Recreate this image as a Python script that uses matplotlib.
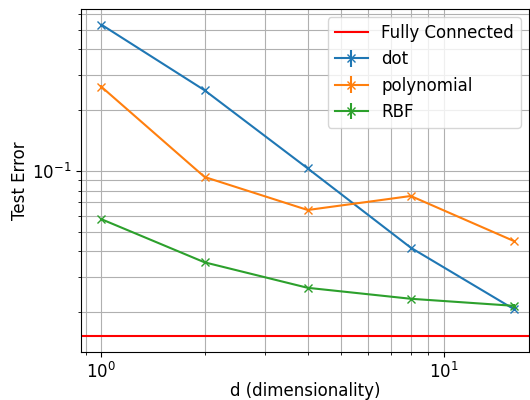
import matplotlib
matplotlib.use('Agg')
import matplotlib.pyplot as plt
import numpy as np

dims = [1, 2, 4, 8, 16]
dot_err = [0.530, 0.251, 0.103, 0.0417, 0.0207]
dot_std = [0.004, 0.002, 0.001, 0.0005, 0.0004]
poly_err = [0.261, 0.0934, 0.0641, 0.0752, 0.045]
poly_std = [0.006, 0.001, 0.001, 0.001, 0.0005]
rbf_err = [0.0577, 0.0353, 0.0264, 0.0233, 0.0215]
rbf_std = [0.0005, 0.0004, 0.0003, 0.0003, 0.0004]
fc_err = 0.0153

plt.rcParams['font.size'] = 12
fig = plt.figure(figsize=(5.3, 4.0), dpi=100)
ax = fig.add_axes([0.153, 0.12, 0.845, 0.8575])

ax.axhline(fc_err, color='red', label='Fully Connected')
ax.errorbar(dims, dot_err, yerr=dot_std, marker='x', label='dot')
ax.errorbar(dims, poly_err, yerr=poly_std, marker='x', label='polynomial')
ax.errorbar(dims, rbf_err, yerr=rbf_std, marker='x', label='RBF')

ax.set_xscale('log')
ax.set_yscale('log')
ax.set_xlim(0.872, 17.7)
ax.set_ylim(0.0127, 0.634)
ax.grid(True, which='both')
ax.set_xlabel('d (dimensionality)', labelpad=0)
ax.set_ylabel('Test Error', labelpad=2)
ax.legend(loc='upper right')

fig.savefig('out.png', dpi=100)
